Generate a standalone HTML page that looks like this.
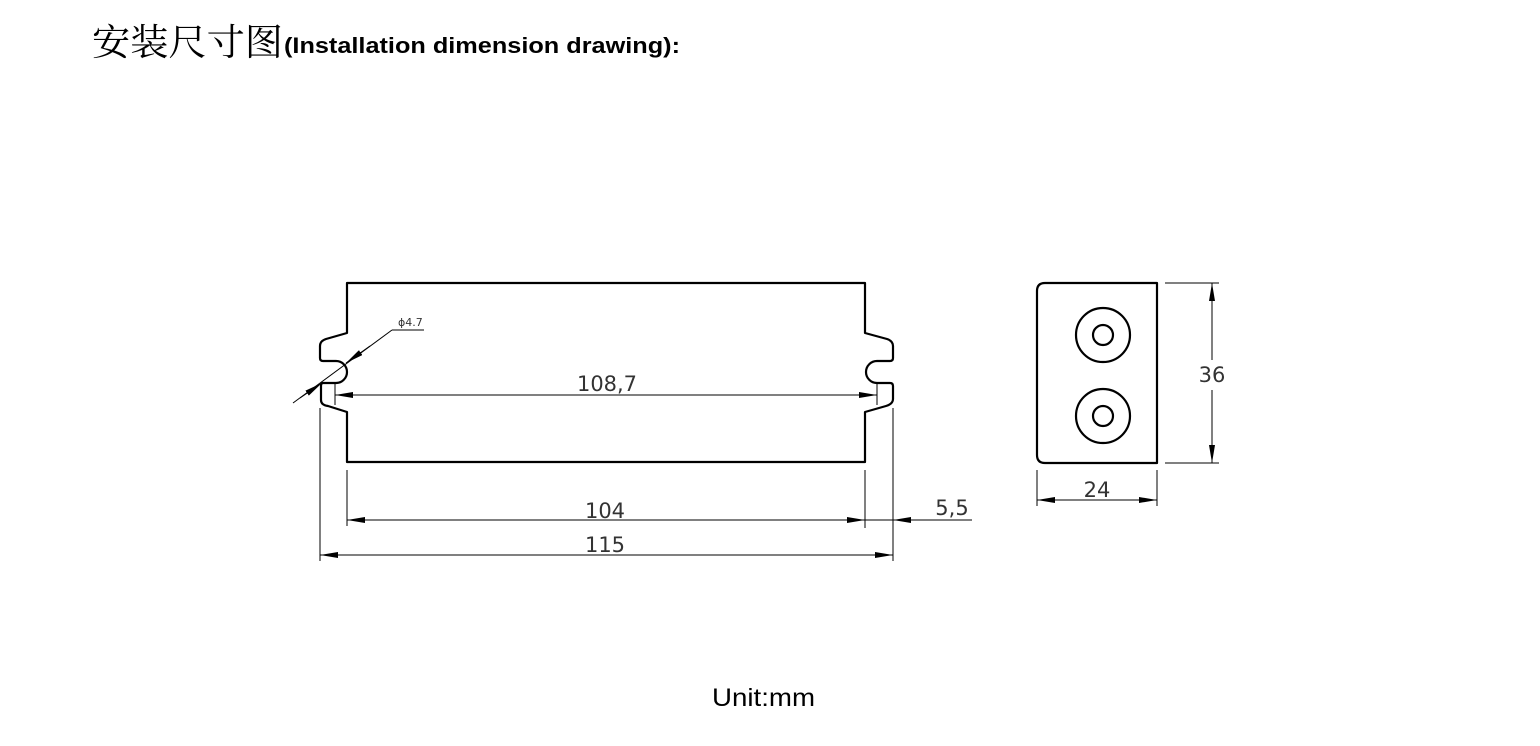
<!DOCTYPE html>
<html><head><meta charset="utf-8"><style>html,body{margin:0;padding:0;background:#fff}svg{display:block}</style></head>
<body>
<svg width="1540" height="746" viewBox="0 0 1540 746" xmlns="http://www.w3.org/2000/svg">
<defs>
<marker id="b" viewBox="0 0 18 6" refX="18" refY="3" markerWidth="18" markerHeight="6" markerUnits="userSpaceOnUse" orient="auto"><path d="M0,0 L18,3 L0,6 z" fill="#000"/></marker>
</defs>
<text x="92" y="55" font-family="'Noto Serif CJK SC','Liberation Serif',serif" font-size="37" textLength="191" lengthAdjust="spacingAndGlyphs">安装尺寸图</text>
<text x="284" y="53" font-family="'Liberation Sans',sans-serif" font-weight="bold" font-size="22" textLength="396" lengthAdjust="spacingAndGlyphs">(Installation dimension drawing):</text>

<g fill="none" stroke="#000" stroke-width="2.2" stroke-linejoin="round">
<path d="M865,283 L347,283 L347,333 L326,339 Q320,341 320,346 L320,358 Q320,361 323,361 L336,361 A11,11 0 0 1 336,383 L323,383 Q321,383 321,386 L321,400 Q321,405 328,406 L347,412 L347,462 L865,462 L865,412 L886,406 Q893,404 893,399 L893,386 Q893,383 890,383 L877,383 A11,11 0 0 1 877,361 L890,361 Q893,361 893,358 L893,346 Q893,341 887,339 L865,333 Z"/>
<path d="M1045,283 L1157,283 L1157,463 L1045,463 Q1037,463 1037,455 L1037,291 Q1037,283 1045,283 Z"/>
<circle cx="1103" cy="335" r="27"/><circle cx="1103" cy="335" r="10"/>
<circle cx="1103" cy="416" r="27"/><circle cx="1103" cy="416" r="10"/>
</g>

<g stroke="#000" stroke-width="1" fill="none">
<line x1="335" y1="383" x2="335" y2="405"/><line x1="877" y1="383" x2="877" y2="405"/>
<line x1="360" y1="395" x2="335" y2="395" marker-end="url(#b)"/>
<line x1="360" y1="395" x2="855" y2="395"/>
<line x1="855" y1="395" x2="877" y2="395" marker-end="url(#b)"/>
<line x1="293" y1="403" x2="392" y2="330"/><line x1="392" y1="330" x2="424" y2="330"/>
<line x1="300" y1="398" x2="322" y2="383" marker-end="url(#b)"/>
<line x1="370" y1="346" x2="346" y2="363" marker-end="url(#b)"/>
<line x1="320" y1="408" x2="320" y2="561"/>
<line x1="347" y1="470" x2="347" y2="526"/>
<line x1="865" y1="470" x2="865" y2="528"/>
<line x1="893" y1="408" x2="893" y2="561"/>
<line x1="380" y1="520" x2="347" y2="520" marker-end="url(#b)"/>
<line x1="380" y1="520" x2="840" y2="520"/>
<line x1="840" y1="520" x2="865" y2="520" marker-end="url(#b)"/>
<line x1="865" y1="520" x2="893" y2="520"/>
<line x1="972" y1="520" x2="893" y2="520" marker-end="url(#b)"/>
<line x1="350" y1="555" x2="320" y2="555" marker-end="url(#b)"/>
<line x1="350" y1="555" x2="870" y2="555"/>
<line x1="870" y1="555" x2="893" y2="555" marker-end="url(#b)"/>
<line x1="1165" y1="283" x2="1219" y2="283"/><line x1="1165" y1="463" x2="1219" y2="463"/>
<line x1="1212" y1="360" x2="1212" y2="283" marker-end="url(#b)"/>
<line x1="1212" y1="390" x2="1212" y2="463" marker-end="url(#b)"/>
<line x1="1037" y1="470" x2="1037" y2="506"/><line x1="1157" y1="470" x2="1157" y2="506"/>
<line x1="1097" y1="500" x2="1037" y2="500" marker-end="url(#b)"/>
<line x1="1097" y1="500" x2="1157" y2="500" marker-end="url(#b)"/>
</g>

<g font-family="'DejaVu Sans','Liberation Sans',sans-serif" fill="#333" font-size="21">
<text x="607" y="391" text-anchor="middle" textLength="60" lengthAdjust="spacingAndGlyphs">108,7</text>
<text x="605" y="518" text-anchor="middle">104</text>
<text x="605" y="552" text-anchor="middle">115</text>
<text x="952" y="515" text-anchor="middle">5,5</text>
<text x="1212" y="382" text-anchor="middle">36</text>
<text x="1097" y="497" text-anchor="middle">24</text>
<text x="398" y="326" font-size="11">ϕ4.7</text>
</g>
<text x="712" y="706" font-family="'Liberation Sans',sans-serif" font-size="25" fill="#000" textLength="103" lengthAdjust="spacingAndGlyphs">Unit:mm</text>
</svg>
</body></html>
